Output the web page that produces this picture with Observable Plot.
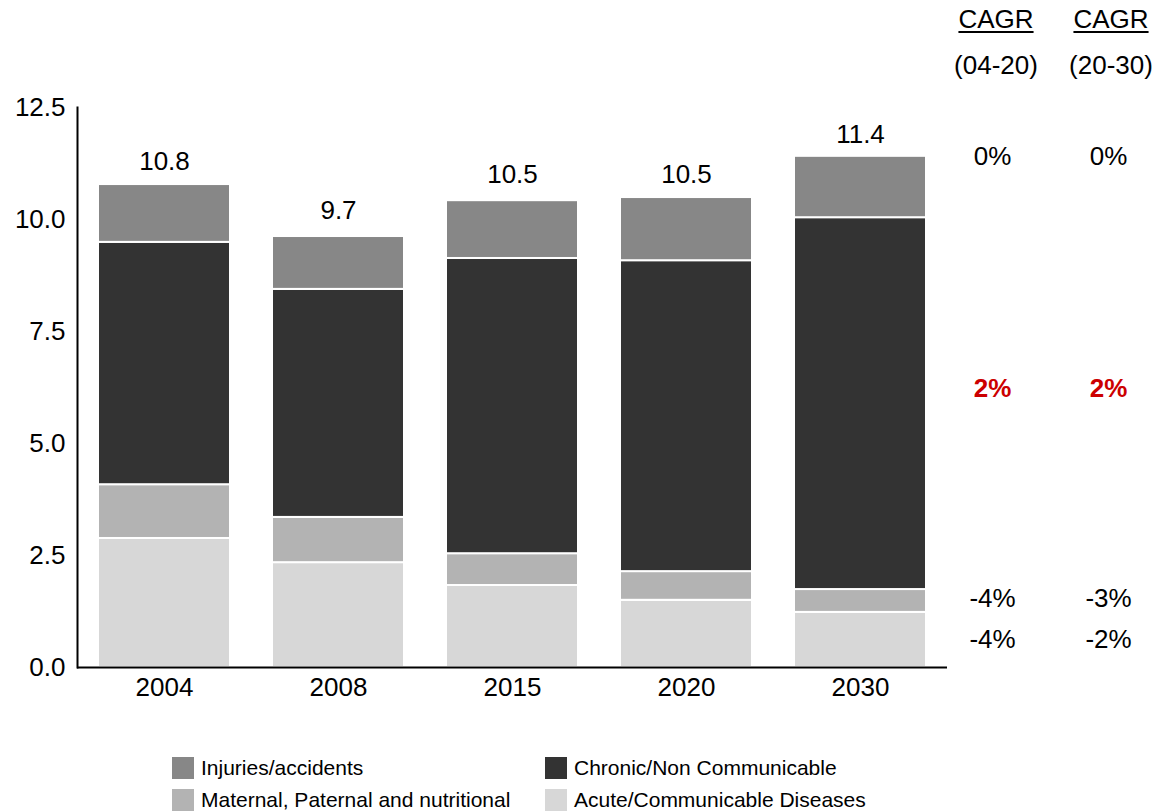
<!DOCTYPE html>
<html>
<head>
<meta charset="utf-8">
<script src="https://cdn.jsdelivr.net/npm/d3@7"></script>
<script src="https://cdn.jsdelivr.net/npm/@observablehq/plot@0.6"></script>
<style>
  html, body { margin: 0; padding: 0; background: #fff; }
  body { font-family: "Liberation Sans", Arial, sans-serif; color: #000; }
  #wrap { position: relative; width: 1157px; height: 812px; overflow: hidden; }
  .hdr { position: absolute; transform: translateX(-50%); white-space: nowrap; text-align: center; font-size: 26px; line-height: 30px; }
  .u { text-decoration: underline; text-underline-offset: 3px; text-decoration-thickness: 2px; }
  .leg { position: absolute; display: flex; align-items: center; font-size: 21px; height: 24px; }
  .sw { width: 22px; height: 22px; margin-right: 7px; }
</style>
</head>
<body>
<div id="wrap"></div>
<script>
const years = ["2004", "2008", "2015", "2020", "2030"];
const categories = ["Acute/Communicable Diseases", "Maternal, Paternal and nutritional", "Chronic/Non Communicable", "Injuries/accidents"];
const acute    = [2.88, 2.34, 1.83, 1.50, 1.23];
const maternal = [1.20, 1.01, 0.71, 0.64, 0.51];
const chronic  = [5.41, 5.09, 6.59, 6.94, 8.30];
const injuries = [1.29, 1.18, 1.29, 1.41, 1.37];
const totals   = [10.8, 9.7, 10.5, 10.5, 11.4];
const cagr0420 = ["-4%", "-4%", "2%", "0%"];   // acute, maternal, chronic, injuries
const cagr2030 = ["-2%", "-3%", "2%", "0%"];
const cagrHeaders = [["CAGR", "(04-20)"], ["CAGR", "(20-30)"]];
const colors = ["#d7d7d7", "#b3b3b3", "#333333", "#878787"];

const series = [acute, maternal, chronic, injuries];
const rows = [];
categories.forEach((c, ci) => years.forEach((y, yi) => rows.push({year: y, cat: c, value: series[ci][yi]})));
const totalRows = years.map((y, i) => ({year: y, total: totals[i]}));

// CAGR rows positioned relative to the 2030 stack segments
const last = years.length - 1;
let base = 0;
const cagrRows = categories.map((c, ci) => {
  const v = series[ci][last];
  const mid = base + v / 2;
  base += v;
  return {cat: c, mid, c1: cagr0420[ci], c2: cagr2030[ci], bold: c === "Chronic/Non Communicable"};
});
const rowDy = [0, -2, -15, -30];
cagrRows.forEach((r, i) => r.dy = rowDy[i]);

const marks = [
  Plot.barY(rows, Plot.stackY({order: categories, x: "year", y: "value", fill: "cat", stroke: "white", strokeWidth: 2})),
  Plot.text(totalRows, {x: "year", y: "total", text: d => d.total.toFixed(1), dy: -22, fontSize: 26}),
  Plot.axisY({ticks: [0, 2.5, 5, 7.5, 10, 12.5], tickFormat: d3.format(".1f"), tickSize: 0, tickPadding: 12, label: null, fontSize: 26}),
  Plot.axisX({tickSize: 0, tickPadding: 10, label: null, fontSize: 26}),
  Plot.frame({anchor: "left", stroke: "#000", strokeWidth: 2}),
  Plot.ruleY([0], {stroke: "#000", strokeWidth: 2})
];
cagrRows.forEach(r => {
  const opts = {y: "mid", frameAnchor: "right", textAnchor: "middle", dy: r.dy, fontSize: 26, fill: r.bold ? "#cc0000" : "#000", fontWeight: r.bold ? "bold" : "normal"};
  marks.push(Plot.text([r], {...opts, text: "c1", dx: 45}));
  marks.push(Plot.text([r], {...opts, text: "c2", dx: 161}));
});

const chart = Plot.plot({
  width: 1157,
  height: 707,
  marginLeft: 77,
  marginRight: 210,
  marginTop: 107,
  marginBottom: 40,
  style: {fontFamily: '"Liberation Sans", Arial, sans-serif', fontSize: "26px", color: "#000", background: "transparent", overflow: "visible"},
  x: {domain: years, paddingInner: 0.24, paddingOuter: 0.12},
  y: {domain: [0, 12.5]},
  color: {domain: categories, range: colors},
  marks
});
const wrap = document.getElementById("wrap");
chart.style.position = "absolute";
chart.style.left = "0px";
chart.style.top = "0px";
wrap.appendChild(chart);

// CAGR headers
const hdrX = [996, 1111];
cagrHeaders.forEach((h, i) => {
  const a = document.createElement("div");
  a.className = "hdr u";
  a.style.left = hdrX[i] + "px";
  a.style.top = "4px";
  a.textContent = h[0];
  wrap.appendChild(a);
  const b = document.createElement("div");
  b.className = "hdr";
  b.style.left = hdrX[i] + "px";
  b.style.top = "50px";
  b.textContent = h[1];
  wrap.appendChild(b);
});

// Legend
const legendOrder = ["Injuries/accidents", "Chronic/Non Communicable", "Maternal, Paternal and nutritional", "Acute/Communicable Diseases"];
const legX = [172, 545], legY = [756, 788];
legendOrder.forEach((c, i) => {
  const d = document.createElement("div");
  d.className = "leg";
  d.style.left = legX[i % 2] + "px";
  d.style.top = legY[Math.floor(i / 2)] + "px";
  const s = document.createElement("span");
  s.className = "sw";
  s.style.background = colors[categories.indexOf(c)];
  d.appendChild(s);
  const t = document.createElement("span");
  t.textContent = c;
  d.appendChild(t);
  wrap.appendChild(d);
});
</script>
</body>
</html>
